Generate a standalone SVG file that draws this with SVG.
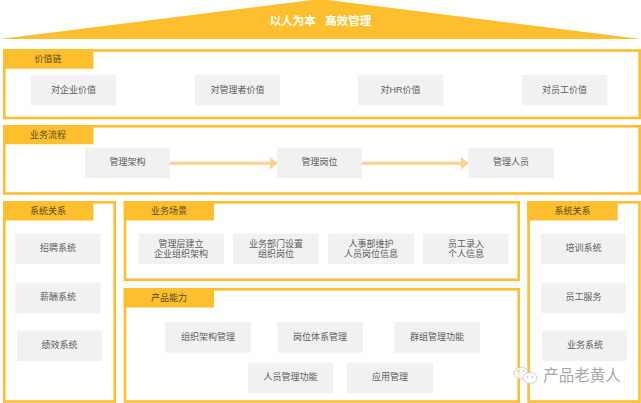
<svg xmlns="http://www.w3.org/2000/svg" width="641" height="403" viewBox="0 0 641 403">
<style>
text{font-family:"Liberation Sans","Noto Sans CJK SC",sans-serif;text-anchor:middle;fill:#5c5c5c;font-size:9px}
.p{fill:#fff;stroke:#fdbf2d;stroke-width:2.6}
.t{fill:#fdbf2d}
.c{fill:#f1f1f1}
.l{fill:#5a4a20}
</style>
<defs><marker id="a" markerWidth="7" markerHeight="13" refX="7" refY="6.5" orient="auto" markerUnits="userSpaceOnUse"><path d="M0 0L7 6.5L0 13Z" fill="#fdd08e"/></marker></defs>
<rect width="641" height="403" fill="#fff"/>
<g id="banner"><path class="t" d="M0 39L320 -1L641 39Z"/><text x="320.500" y="24.500" style="fill:#fff;font-size:11.500px;font-weight:bold" xml:space="preserve">以人为本   高效管理</text></g>
<g id="value"><rect class="p" x="4.300" y="50.500" width="635.400" height="67.500"/><path class="t" d="M3 49H93.500V68.700H3Z"/><text class="l" x="48" y="61.500">价值链</text>
<g id="v1"><rect class="c" x="31" y="75" width="85" height="30.300"/><text x="73.500" y="92.800">对企业价值</text></g>
<g id="v2"><rect class="c" x="195" y="75" width="85" height="30.300"/><text x="237.500" y="92.800">对管理者价值</text></g>
<g id="v3"><rect class="c" x="358" y="75" width="85.300" height="30.300"/><text x="400.500" y="92.800">对HR价值</text></g>
<g id="v4"><rect class="c" x="522" y="75" width="85.300" height="30.300"/><text x="564.500" y="92.800">对员工价值</text></g></g>
<g id="process"><rect class="p" x="4.300" y="126.300" width="635.400" height="67.200"/><path class="t" d="M3 125H93.500V144.300H3Z"/><text class="l" x="48" y="137.500">业务流程</text>
<g id="p1"><rect class="c" x="85" y="148" width="85" height="30"/><text x="127.500" y="165">管理架构</text></g>
<g id="p2"><rect class="c" x="277" y="148" width="85" height="30"/><text x="319.500" y="165">管理岗位</text></g>
<g id="p3"><rect class="c" x="468.300" y="148" width="85.500" height="30"/><text x="511" y="165">管理人员</text></g></g>
<g id="connectors" fill="none" stroke="#fdd08e" stroke-width="3"><path d="M170 163.300H277" marker-end="url(#a)"/><path d="M362 163.300H468" marker-end="url(#a)"/></g>
<g id="left"><rect class="p" x="4.300" y="202.300" width="110.400" height="199.200"/><path class="t" d="M3 201H93.500V220.500H3Z"/><text class="l" x="48" y="213.500">系统关系</text>
<g id="l1"><rect class="c" x="15.300" y="233.700" width="85.400" height="30.300"/><text x="58" y="251.300">招聘系统</text></g>
<g id="l2"><rect class="c" x="15.300" y="283" width="85.400" height="30"/><text x="58" y="300.300">薪酬系统</text></g>
<g id="l3"><rect class="c" x="17" y="330.500" width="85" height="30.500"/><text x="59.500" y="348">绩效系统</text></g></g>
<g id="scene"><rect class="p" x="125" y="202.300" width="393.700" height="77.400"/><path class="t" d="M123.700 201H214V220.500H123.700Z"/><text class="l" x="169" y="213.500">业务场景</text>
<g id="s1"><rect class="c" x="138.500" y="233.700" width="85.500" height="30.300"/><text x="181" y="246.500">管理层建立</text><text x="181" y="257">企业组织架构</text></g>
<g id="s2"><rect class="c" x="233" y="233.700" width="85.500" height="30.300"/><text x="276" y="246.500">业务部门设置</text><text x="276" y="257">组织岗位</text></g>
<g id="s3"><rect class="c" x="328.300" y="233.700" width="85.700" height="30.300"/><text x="371" y="246.500">人事部维护</text><text x="371" y="257">人员岗位信息</text></g>
<g id="s4"><rect class="c" x="423" y="233.700" width="85.700" height="30.300"/><text x="466" y="246.500">员工录入</text><text x="466" y="257">个人信息</text></g></g>
<g id="capability"><rect class="p" x="125" y="289.300" width="393.700" height="112.200"/><path class="t" d="M123.700 288H214V307.500H123.700Z"/><text class="l" x="169" y="300.500">产品能力</text>
<g id="c1"><rect class="c" x="165.300" y="322" width="85.400" height="30.700"/><text x="208" y="340">组织架构管理</text></g>
<g id="c2"><rect class="c" x="277.500" y="322" width="85.500" height="30.700"/><text x="320" y="340">岗位体系管理</text></g>
<g id="c3"><rect class="c" x="394.300" y="322" width="85.700" height="30.700"/><text x="437" y="340">群组管理功能</text></g>
<g id="c4"><rect class="c" x="248" y="363" width="85" height="30"/><text x="290.500" y="380">人员管理功能</text></g>
<g id="c5"><rect class="c" x="347" y="363" width="86" height="30"/><text x="390" y="380">应用管理</text></g></g>
<g id="right"><rect class="p" x="528.600" y="202.300" width="110.900" height="199.200"/><path class="t" d="M527.300 201H617.700V220.500H527.300Z"/><text class="l" x="572.500" y="213.500">系统关系</text>
<g id="r1"><rect class="c" x="541" y="233.700" width="85" height="30.300"/><text x="583.500" y="251.300">培训系统</text></g>
<g id="r2"><rect class="c" x="541" y="283" width="85" height="30"/><text x="583.500" y="300.300">员工服务</text></g>
<g id="r3"><rect class="c" x="542" y="330.500" width="85" height="30.500"/><text x="585" y="348">业务系统</text></g></g>
<g id="mark" fill="#fff" fill-opacity=".75" stroke="#c4c4c4" stroke-width=".8"><ellipse cx="521" cy="373" rx="7" ry="6"/><ellipse cx="530" cy="378" rx="7" ry="5.500" fill-opacity="1"/><circle cx="518.500" cy="371" r=".8" fill="#aaa" fill-opacity="1" stroke="none"/><circle cx="523.500" cy="371" r=".8" fill="#aaa" fill-opacity="1" stroke="none"/><circle cx="527.500" cy="377" r=".7" fill="#aaa" fill-opacity="1" stroke="none"/><circle cx="532.500" cy="377" r=".7" fill="#aaa" fill-opacity="1" stroke="none"/></g>
<text x="582" y="381" style="fill:#a8a8a8;font-size:15.500px">产品老黄人</text>
</svg>
